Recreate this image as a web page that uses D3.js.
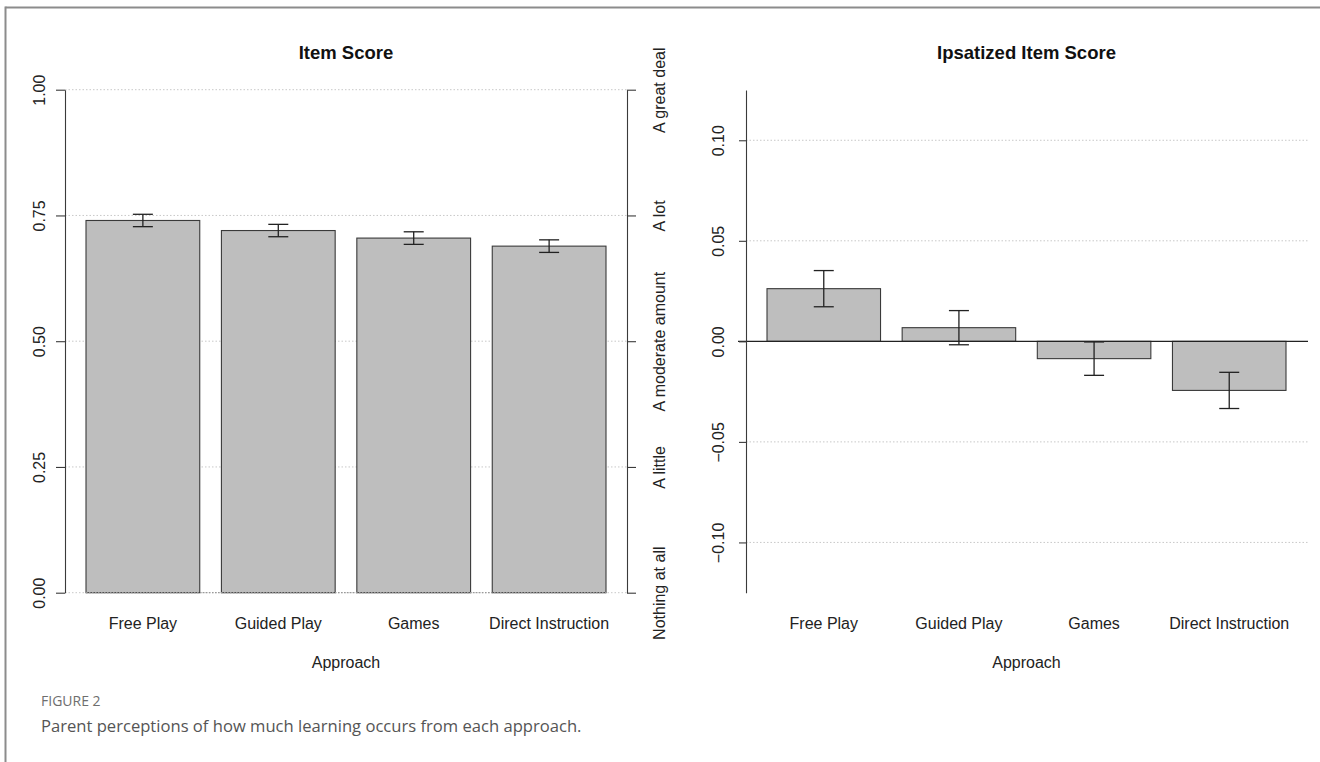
<!DOCTYPE html>
<html>
<head>
<meta charset="utf-8">
<script src="https://cdn.jsdelivr.net/npm/d3@7"></script>
<style>
  html, body { margin: 0; padding: 0; background: #fff; }
  svg { display: block; }
  .tick text, .lbl { font-family: "Liberation Sans", Arial, sans-serif; }
</style>
</head>
<body>
<svg id="fig" width="1320" height="762"></svg>
<script>
// Approaches shown on both panels
const categories = ["Free Play", "Guided Play", "Games", "Direct Instruction"];

// Panel 1: mean item score (0–1) with standard errors
const itemMean = [0.740, 0.720, 0.705, 0.689];
const itemSE   = [0.0123, 0.0123, 0.0125, 0.0125];
const itemTicks = [0, 0.25, 0.5, 0.75, 1];
const itemTickLabels = ["0.00", "0.25", "0.50", "0.75", "1.00"];
const itemLevelLabels = ["Nothing at all", "A little", "A moderate amount", "A lot", "A great deal"];

// Panel 2: ipsatized item score with standard errors
const ipsMean = [0.0262, 0.0068, -0.0086, -0.0244];
const ipsSE   = [0.0090, 0.0085, 0.0083, 0.0090];
const ipsDomain = [-0.125, 0.125];
const ipsTicks = [-0.10, -0.05, 0, 0.05, 0.10];
const ipsTickLabels = ["\u22120.10", "\u22120.05", "0.00", "0.05", "0.10"];

const titles = ["Item Score", "Ipsatized Item Score"];
const xTitle = "Approach";
const figLabel = "FIGURE 2";
const figCaption = "Parent perceptions of how much learning occurs from each approach.";

const svg = d3.select("#fig");
const INK = "#222";
const BAR_FILL = "#bebebe";
const BAR_STROKE = "#3a3a3a";
const GRID = "#c8c8c8";

// page frame (top and left rules)
svg.append("line").attr("x1", 5.5).attr("x2", 1320).attr("y1", 7.5).attr("y2", 7.5)
  .attr("stroke", "#8c8c8c").attr("stroke-width", 2);
svg.append("line").attr("x1", 5.5).attr("x2", 5.5).attr("y1", 6.5).attr("y2", 762)
  .attr("stroke", "#8c8c8c").attr("stroke-width", 2);

function rotateTickText(g, offset) {
  g.selectAll(".tick text")
    .attr("transform", "rotate(-90)")
    .attr("x", 0)
    .attr("y", offset)
    .attr("dy", "0.35em")
    .attr("text-anchor", "middle")
    .attr("fill", INK)
    .style("font-size", "16px");
}

function styleAxis(g) {
  g.select(".domain").attr("stroke", "#3a3a3a").attr("stroke-width", 1.1);
  g.selectAll(".tick line").attr("stroke", "#3a3a3a").attr("stroke-width", 1.1);
}

function drawPanel(opts) {
  const { x, y, means, ses, gridTicks, title, baseline, zeroLine } = opts;
  const g = svg.append("g");
  const [gx0, gx1] = opts.gridExtent;

  // dotted horizontal guides
  g.append("g").selectAll("line").data(gridTicks).join("line")
    .attr("x1", gx0).attr("x2", gx1)
    .attr("y1", d => y(d)).attr("y2", d => y(d))
    .attr("stroke", GRID).attr("stroke-width", 1)
    .attr("stroke-dasharray", "1.5,2");

  // bars
  g.append("g").selectAll("rect").data(means).join("rect")
    .attr("x", (d, i) => x(categories[i]))
    .attr("width", x.bandwidth())
    .attr("y", d => Math.min(y(d), y(baseline)))
    .attr("height", d => Math.abs(y(d) - y(baseline)))
    .attr("fill", BAR_FILL)
    .attr("stroke", BAR_STROKE)
    .attr("stroke-width", 1.1);

  if (zeroLine) {
    g.append("line")
      .attr("x1", zeroLine[0]).attr("x2", zeroLine[1])
      .attr("y1", y(0)).attr("y2", y(0))
      .attr("stroke", "#222").attr("stroke-width", 1.2);
  } else {
    g.append("line")
      .attr("x1", x(categories[0])).attr("x2", x(categories[categories.length - 1]) + x.bandwidth())
      .attr("y1", y(baseline)).attr("y2", y(baseline))
      .attr("stroke", "#9a9a9a").attr("stroke-width", 1.2)
      .attr("stroke-dasharray", "1.5,1.5");
  }

  // standard error bars
  const cap = 10;
  const eb = g.append("g").attr("stroke", "#222").attr("stroke-width", 1.3).attr("fill", "none");
  means.forEach((m, i) => {
    const cx = x(categories[i]) + x.bandwidth() / 2;
    const top = y(m + ses[i]), bot = y(m - ses[i]);
    eb.append("line").attr("x1", cx).attr("x2", cx).attr("y1", top).attr("y2", bot);
    eb.append("line").attr("x1", cx - cap).attr("x2", cx + cap).attr("y1", top).attr("y2", top);
    eb.append("line").attr("x1", cx - cap).attr("x2", cx + cap).attr("y1", bot).attr("y2", bot);
  });

  // category labels
  const cx0 = x(categories[0]);
  const cx1 = x(categories[categories.length - 1]) + x.bandwidth();
  g.append("g").selectAll("text").data(categories).join("text")
    .attr("class", "lbl")
    .attr("x", d => x(d) + x.bandwidth() / 2)
    .attr("y", 628.5)
    .attr("text-anchor", "middle")
    .attr("fill", INK)
    .style("font-size", "16px")
    .text(d => d);

  g.append("text").attr("class", "lbl")
    .attr("x", (cx0 + cx1) / 2).attr("y", 667.5)
    .attr("text-anchor", "middle").attr("fill", INK)
    .style("font-size", "16px").text(xTitle);

  g.append("text").attr("class", "lbl")
    .attr("x", (cx0 + cx1) / 2).attr("y", 58.5)
    .attr("text-anchor", "middle").attr("fill", "#111")
    .style("font-size", "18.5px").style("font-weight", "bold").text(title);
  return g;
}

// ---- Panel 1: Item Score ----
const yL = d3.scaleLinear().domain([0, 1]).range([592.7, 89.7]);
const xL = d3.scaleBand().domain(categories).range([86, 606]).paddingInner(0.16).paddingOuter(0);
drawPanel({ x: xL, y: yL, means: itemMean, ses: itemSE, gridTicks: itemTicks,
  title: titles[0], baseline: 0, gridExtent: [65, 627] });

const axL = svg.append("g").attr("transform", "translate(65,0)")
  .call(d3.axisLeft(yL).tickValues(itemTicks).tickSize(9).tickSizeOuter(0)
    .tickFormat((d, i) => itemTickLabels[i]));
styleAxis(axL); rotateTickText(axL, -25.5);

const axL2 = svg.append("g").attr("transform", "translate(627,0)")
  .call(d3.axisRight(yL).tickValues(itemTicks).tickSize(9).tickSizeOuter(0)
    .tickFormat((d, i) => itemLevelLabels[i]));
styleAxis(axL2); rotateTickText(axL2, 32.5);

// ---- Panel 2: Ipsatized Item Score ----
const yR = d3.scaleLinear().domain(ipsDomain).range([592.7, 90]);
const xR = d3.scaleBand().domain(categories).range([767, 1286]).paddingInner(0.16).paddingOuter(0);
drawPanel({ x: xR, y: yR, means: ipsMean, ses: ipsSE,
  gridTicks: ipsTicks.filter(t => t !== 0),
  title: titles[1], baseline: 0, gridExtent: [746, 1308], zeroLine: [738, 1308] });

const axR = svg.append("g").attr("transform", "translate(746,0)")
  .call(d3.axisLeft(yR).tickValues(ipsTicks).tickSize(7).tickSizeOuter(0)
    .tickFormat((d, i) => ipsTickLabels[i]));
styleAxis(axR); rotateTickText(axR, -27.7);

// ---- caption ----
svg.append("text")
  .attr("x", 41).attr("y", 706)
  .attr("fill", "#6e6e6e")
  .style("font-family", '"Open Sans", "Noto Sans", sans-serif')
  .style("font-size", "14px")
  .text(figLabel);
svg.append("text")
  .attr("x", 41).attr("y", 732)
  .attr("fill", "#555")
  .style("font-family", '"Open Sans", "Noto Sans", sans-serif')
  .style("font-size", "16.6px")
  .text(figCaption);
</script>
</body>
</html>
